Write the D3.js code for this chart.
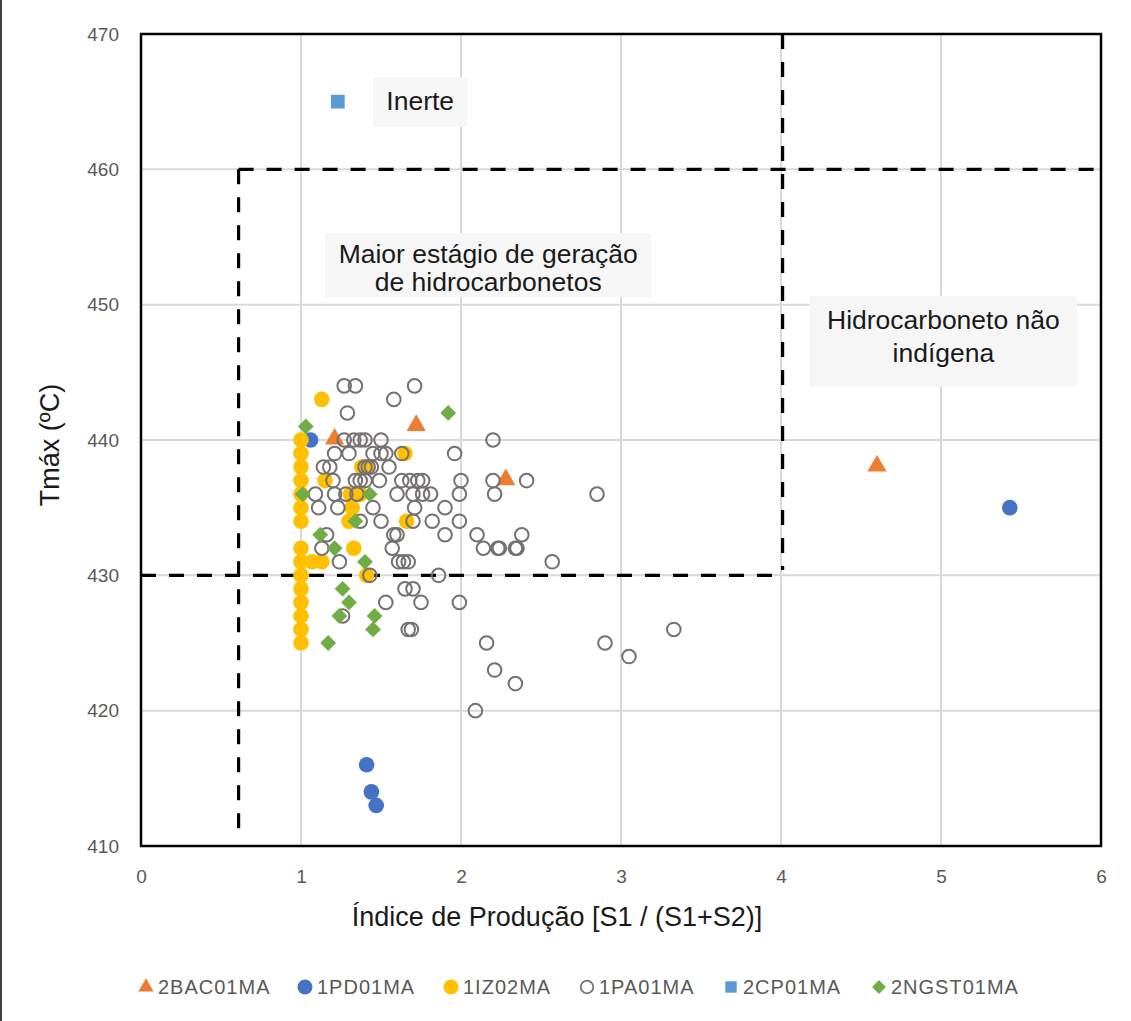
<!DOCTYPE html>
<html>
<head>
<meta charset="utf-8">
<script src="https://cdn.jsdelivr.net/npm/d3@7"></script>
<style>
  html, body { margin: 0; padding: 0; background: #fff; }
  svg { display: block; font-family: "Liberation Sans", Arial, sans-serif; }
</style>
</head>
<body>
<svg id="chart" width="1131" height="1021"></svg>
<script>
// Production index (x) vs Tmax (y) per well
const seriesNames = ["2BAC01MA", "1PD01MA", "1IZ02MA", "1PA01MA", "2CP01MA", "2NGST01MA"];

const bac01X = [1.21, 1.72, 2.28, 4.60];
const bac01Y = [440, 441, 437, 438];

const pd01X = [1.06, 5.43, 1.41, 1.44, 1.47];
const pd01Y = [440, 435, 416, 414, 413];

const iz02X = [1, 1, 1, 1, 1, 1, 1, 1, 1, 1, 1, 1, 1, 1, 1,
               1.13, 1.65, 1.38, 1.41, 1.15, 1.31, 1.37, 1.32, 1.30, 1.66, 1.33, 1.07, 1.13, 1.41];
const iz02Y = [440, 439, 438, 437, 436, 435, 434, 432, 431, 430, 429, 428, 427, 426, 425,
               443, 439, 438, 438, 437, 436, 436, 435, 434, 434, 432, 431, 431, 430];

const pa01X = [1.27, 1.34, 1.71, 1.58, 1.29,
               1.27, 1.33, 1.37, 1.40, 1.50, 2.20,
               1.21, 1.30, 1.45, 1.50, 1.53, 1.63, 1.96,
               1.14, 1.18, 1.40, 1.42, 1.44, 1.55,
               1.20, 1.34, 1.37, 1.40, 1.49, 1.63, 1.68, 1.73, 1.76, 2.00, 2.20, 2.41,
               1.09, 1.21, 1.28, 1.35, 1.60, 1.70, 1.76, 1.81, 1.99, 2.21, 2.85,
               1.11, 1.23, 1.45, 1.71, 1.90,
               1.37, 1.50, 1.70, 1.82, 1.99,
               1.16, 1.58, 1.60, 1.90, 2.10, 2.38,
               1.13, 1.57, 2.14, 2.23, 2.24, 2.34, 2.35,
               1.24, 1.61, 1.64, 1.67, 2.57,
               1.43, 1.86,
               1.65, 1.70,
               1.53, 1.75, 1.99,
               1.26,
               1.67, 1.69, 3.33,
               2.16, 2.90,
               3.05, 2.21, 2.34, 2.09];
const pa01Y = [444, 444, 444, 443, 442,
               440, 440, 440, 440, 440, 440,
               439, 439, 439, 439, 439, 439, 439,
               438, 438, 438, 438, 438, 438,
               437, 437, 437, 437, 437, 437, 437, 437, 437, 437, 437, 437,
               436, 436, 436, 436, 436, 436, 436, 436, 436, 436, 436,
               435, 435, 435, 435, 435,
               434, 434, 434, 434, 434,
               433, 433, 433, 433, 433, 433,
               432, 432, 432, 432, 432, 432, 432,
               431, 431, 431, 431, 431,
               430, 430,
               429, 429,
               428, 428, 428,
               427,
               426, 426, 426,
               425, 425,
               424, 423, 422, 420];

const cp01X = [1.23];
const cp01Y = [465];

const ngst01X = [1.03, 1.01, 1.43, 1.92, 1.12, 1.21, 1.34, 1.40, 1.26, 1.30, 1.24, 1.46, 1.45, 1.17];
const ngst01Y = [441, 436, 436, 442, 433, 432, 434, 431, 429, 428, 427, 427, 426, 425];

const xTicks = [0, 1, 2, 3, 4, 5, 6];
const yTicks = [410, 420, 430, 440, 450, 460, 470];

// Interpretation zones (dashed boundaries) in data units
const zoneLines = [
  [[0.61, 460], [0.61, 411]],
  [[0.61, 460], [5.98, 460]],
  [[4.01, 470], [4.01, 430.4]],
  [[0, 430], [3.99, 430]]
];

// Zone labels: box corners in data units, text lines and baselines (data units)
const zoneLabels = [
  { x0: 1.45, x1: 2.04, y0: 466.8, y1: 463.15, lines: ["Inerte"], base: [464.4] },
  { x0: 1.15, x1: 3.19, y0: 455.3, y1: 450.55, lines: ["Maior estágio de geração", "de hidrocarbonetos"], base: [453.1, 451.0] },
  { x0: 4.18, x1: 5.85, y0: 450.65, y1: 443.95, lines: ["Hidrocarboneto não", "indígena"], base: [448.2, 445.8] }
];

const svg = d3.select("#chart");
const W = 1131, H = 1021;
const m = { left: 141, right: 30, top: 34, bottom: 175 };

const x = d3.scaleLinear().domain([0, 6]).range([m.left, W - m.right]);
const y = d3.scaleLinear().domain([410, 470]).range([H - m.bottom, m.top]);

// outer frame edge
svg.append("line").attr("x1", 1).attr("x2", 1).attr("y1", 0).attr("y2", H)
  .attr("stroke", "#000").attr("stroke-width", 1.5);

// gridlines
svg.append("g").selectAll("line").data(xTicks).join("line")
  .attr("x1", d => x(d)).attr("x2", d => x(d))
  .attr("y1", y(410)).attr("y2", y(470))
  .attr("stroke", "#d9d9d9").attr("stroke-width", 2);
svg.append("g").selectAll("line").data(yTicks).join("line")
  .attr("x1", x(0)).attr("x2", x(6))
  .attr("y1", d => y(d)).attr("y2", d => y(d))
  .attr("stroke", "#d9d9d9").attr("stroke-width", 2);

// axes (labels only)
const xAxis = svg.append("g").attr("transform", `translate(0,${y(410)})`)
  .call(d3.axisBottom(x).tickValues(xTicks).tickSize(0).tickPadding(24).tickFormat(d3.format("d")));
const yAxis = svg.append("g").attr("transform", `translate(${x(0)},0)`)
  .call(d3.axisLeft(y).tickValues(yTicks).tickSize(0).tickPadding(22).tickFormat(d3.format("d")));
[xAxis, yAxis].forEach(g => {
  g.select(".domain").remove();
  g.selectAll("text").attr("font-size", 19).attr("fill", "#595959")
    .attr("font-family", "Liberation Sans, Arial, sans-serif");
});

// zone label boxes
const lbl = svg.append("g");
zoneLabels.forEach(z => {
  lbl.append("rect")
    .attr("x", x(z.x0)).attr("y", y(z.y0))
    .attr("width", x(z.x1) - x(z.x0)).attr("height", y(z.y1) - y(z.y0))
    .attr("fill", "#f6f6f7");
  const cx = (x(z.x0) + x(z.x1)) / 2;
  z.lines.forEach((t, i) => {
    lbl.append("text").attr("x", cx).attr("y", y(z.base[i]))
      .attr("text-anchor", "middle").attr("font-size", 26.5).attr("fill", "#1a1a1a").text(t);
  });
});

// dashed zone boundaries
svg.append("g").selectAll("line").data(zoneLines).join("line")
  .attr("x1", d => x(d[0][0])).attr("y1", d => y(d[0][1]))
  .attr("x2", d => x(d[1][0])).attr("y2", d => y(d[1][1]))
  .attr("stroke", "#000").attr("stroke-width", 3.2).attr("stroke-dasharray", "15,13");

// markers
const sym = {
  tri: d3.symbol().type(d3.symbolTriangle).size(160),
  dia: d3.symbol().type(d3.symbolSquare).size(125),
  sq: d3.symbol().type(d3.symbolSquare).size(190)
};
const zip = (xs, ys) => xs.map((v, i) => [v, ys[i]]);
const pts = svg.append("g");

pts.append("g").selectAll("path").data(zip(bac01X, bac01Y)).join("path")
  .attr("d", sym.tri).attr("transform", d => `translate(${x(d[0])},${y(d[1]) - 1})`)
  .attr("fill", "#ed7d31");
pts.append("g").selectAll("circle").data(zip(pd01X, pd01Y)).join("circle")
  .attr("cx", d => x(d[0])).attr("cy", d => y(d[1])).attr("r", 7.8).attr("fill", "#4472c4");
pts.append("g").selectAll("circle").data(zip(iz02X, iz02Y)).join("circle")
  .attr("cx", d => x(d[0])).attr("cy", d => y(d[1])).attr("r", 7.8).attr("fill", "#ffc000");
pts.append("g").selectAll("circle").data(zip(pa01X, pa01Y)).join("circle")
  .attr("cx", d => x(d[0])).attr("cy", d => y(d[1])).attr("r", 6.8)
  .attr("fill", "none").attr("stroke", "#767171").attr("stroke-width", 2);
pts.append("g").selectAll("path").data(zip(cp01X, cp01Y)).join("path")
  .attr("d", sym.sq).attr("transform", d => `translate(${x(d[0])},${y(d[1])})`)
  .attr("fill", "#5b9bd5");
pts.append("g").selectAll("path").data(zip(ngst01X, ngst01Y)).join("path")
  .attr("d", sym.dia).attr("transform", d => `translate(${x(d[0])},${y(d[1])}) rotate(45)`)
  .attr("fill", "#70ad47");

// plot frame
svg.append("rect").attr("x", x(0)).attr("y", y(470))
  .attr("width", x(6) - x(0)).attr("height", y(410) - y(470))
  .attr("fill", "none").attr("stroke", "#000").attr("stroke-width", 2.5);

// axis titles
svg.append("text").attr("x", 557).attr("y", 926)
  .attr("text-anchor", "middle").attr("font-size", 27).attr("fill", "#1a1a1a")
  .text("Índice de Produção [S1 / (S1+S2)]");
svg.append("text").attr("transform", `translate(59,${445}) rotate(-90)`)
  .attr("text-anchor", "middle").attr("font-size", 27).attr("fill", "#1a1a1a")
  .text("Tmáx (ºC)");

// legend
const legX = [146, 305, 451, 587, 731, 879];
const leg = svg.append("g").attr("transform", "translate(0,987)");
seriesNames.forEach((name, i) => {
  const g = leg.append("g").attr("transform", `translate(${legX[i]},0)`);
  if (i === 0) g.append("path").attr("d", d3.symbol().type(d3.symbolTriangle).size(100)).attr("fill", "#ed7d31");
  if (i === 1) g.append("circle").attr("r", 7.5).attr("fill", "#4472c4");
  if (i === 2) g.append("circle").attr("r", 7.5).attr("fill", "#ffc000");
  if (i === 3) g.append("circle").attr("r", 6.3).attr("fill", "none").attr("stroke", "#767171").attr("stroke-width", 1.8);
  if (i === 4) g.append("path").attr("d", d3.symbol().type(d3.symbolSquare).size(130)).attr("fill", "#5b9bd5");
  if (i === 5) g.append("path").attr("d", d3.symbol().type(d3.symbolSquare).size(95)).attr("transform", "rotate(45)").attr("fill", "#70ad47");
  g.append("text").attr("x", 12).attr("y", 7).attr("font-size", 20).attr("fill", "#595959")
    .attr("letter-spacing", 1.0).text(name);
});
</script>
</body>
</html>
